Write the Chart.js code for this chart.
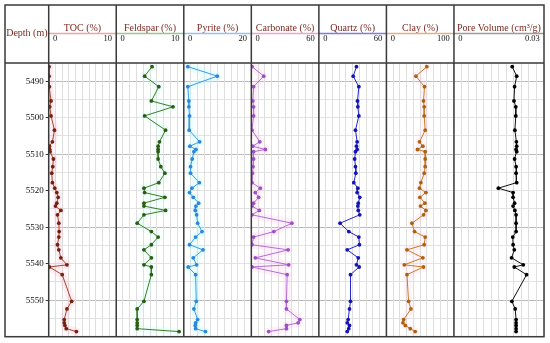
<!DOCTYPE html>
<html>
<head>
<meta charset="utf-8">
<script src="https://cdn.jsdelivr.net/npm/chart.js@4.4.1/dist/chart.umd.min.js"></script>
<style>
    body { margin: 0; background: #fff; }
    #caja { width: 550px; height: 343px; }
</style>
</head>
<body>
<div id="caja"><canvas id="grafica" width="550" height="343"></canvas></div>
<script>
// sample depths (m), shared by every log
const depths = [5486.0, 5488.6, 5491.5, 5495.4, 5497.0, 5499.5, 5503.4, 5506.6, 5507.8, 5508.7,
    5509.3, 5511.3, 5513.4, 5515.2, 5517.8, 5519.3, 5520.5, 5521.8, 5523.4, 5524.2,
    5525.4, 5526.6, 5528.9, 5531.2, 5532.7, 5534.8, 5536.2, 5538.4, 5540.3, 5540.9,
    5543.0, 5550.3, 5552.4, 5555.3, 5556.2, 5556.9, 5557.8, 5558.6];

const toc = [0.05, 0.05, 0.1, 0.35, 0.15, 0.35, 0.85, 0.55, 0.1, 0.15,
    0.2, 0.7, 0.6, 0.45, 0.55, 0.9, 1.2, 1.4, 1.2, 1.0,
    1.8, 1.3, 1.5, 1.55, 1.5, 1.3, 1.5, 1.8, 2.7, 0.1,
    2.0, 3.4, 2.7, 2.3, 2.3, 2.4, 2.6, 4.1];

const feldspar = [5.3, 4.2, 6.3, 5.2, 8.4, 4.2, 7.3, 6.4, 6.2, 6.2,
    6.2, 6.2, 6.6, 7.2, 6.3, 4.1, 4.2, 7.2, 4.1, 4.1,
    7.3, 4.1, 3.1, 5.2, 6.2, 5.2, 4.1, 5.2, 4.1, 5.2,
    5.2, 4.1, 3.1, 3.1, 3.1, 3.1, 3.1, 9.3];

const pyrite = [1.2, 9.9, 1.2, 1.5, 1.5, 1.7, 1.6, 4.7, 1.8, 3.6,
    3.0, 2.5, 2.0, 2.0, 4.6, 2.4, 1.7, 2.8, 4.4, 3.6,
    3.4, 3.8, 4.1, 5.4, 3.5, 1.7, 5.7, 2.8, 3.8, 1.3,
    3.5, 3.7, 3.0, 4.1, 3.5, 3.4, 3.5, 6.4];

const carbonate = [0.6, 11, 2, 1.3, 2, 2, 0.6, 7.5, 1.2, 12.5,
    2, 2, 1.5, 1.0, 0.6, 8, 3.5, 6.5, 2, 0.6,
    7.1, 0.6, 36, 20, 2, 0.6, 32.7, 3.6, 33.2, 0.6,
    31.8, 31.2, 31.2, 43, 41.6, 31.2, 31.2, 15.4];

const quartz = [33.4, 30.5, 35.5, 34.3, 34.6, 35.5, 32.5, 34, 33.4, 34,
    32.5, 31.8, 32.5, 32.8, 31, 34.6, 34, 36.3, 35, 34.6,
    35, 36.3, 18.8, 26.6, 35.5, 36, 25.2, 35, 33.4, 35.8,
    28.1, 28.1, 27.2, 26, 25.2, 27.2, 26.5, 25.2];

const clay = [59.8, 43.7, 56.4, 54.9, 55.9, 55.9, 57.4, 49, 54, 46,
    57.4, 57.4, 57.4, 56, 51, 49, 58.5, 49.5, 57, 50.5,
    58.5, 55, 37.8, 41.6, 57.4, 55.9, 30.4, 54, 26.5, 54.9,
    30.4, 32.8, 36.3, 25.5, 24.5, 28, 35.3, 42.6];

const poreVolume = [0.0194, 0.0209, 0.0202, 0.0200, 0.0206, 0.0206, 0.0203, 0.0208, 0.0209, 0.0207,
    0.0209, 0.0202, 0.0207, 0.0207, 0.0209, 0.0148, 0.0197, 0.0197, 0.0202, 0.0197,
    0.0203, 0.0207, 0.0207, 0.0207, 0.0196, 0.0197, 0.0201, 0.0192, 0.0231, 0.0201,
    0.0242, 0.0193, 0.0204, 0.0207, 0.0207, 0.0207, 0.0207, 0.0207];

const panelTitles = ['TOC (%)', 'Feldspar (%)', 'Pyrite (%)', 'Carbonate (%)', 'Quartz (%)', 'Clay (%)', 'Pore Volume (cm\u00b3/g)'];
const axisMax = [10, 10, 20, 60, 60, 100, 0.03];
const axisMaxLabels = ['10', '10', '20', '60', '60', '100', '0.03'];
const axisDivisions = [10, 10, 10, 10, 10, 10, 12];
const depthMin = 5485;
const depthMax = 5560;

const series = [toc, feldspar, pyrite, carbonate, quartz, clay, poreVolume];

// styles
const lineColors = ['#a3442a', '#3d7a1f', '#3b98e6', '#b06ed2', '#2323cf', '#c77a26', '#111111'];
const pointColors = ['#74220f', '#2c5d13', '#2e86d8', '#9b52c2', '#1515b0', '#ad6212', '#000000'];
const headerColors = ['#eda3a8', '#98c690', '#93c4ee', '#e7a7cc', '#7c7ce4', '#dfb27f', '#9a9a9a'];
const glowColors = ['rgba(255,175,205,0.22)', 'rgba(190,255,245,0.22)', 'rgba(175,250,255,0.28)',
    'rgba(255,190,230,0.22)', null, 'rgba(255,195,215,0.18)', null];
const serif = 'Liberation Serif';
const titleColor = '#7a2a22';

function puntos(valores) {
    return valores.map((v, i) => ({ x: v, y: depths[i] }));
}

const datasets = [];
const scales = {
    y: {
        type: 'linear',
        position: 'left',
        reverse: true,
        min: depthMin,
        max: depthMax,
        afterFit: function (s) {
            s.width = 43.7;
            s.paddingTop = 0;
            s.paddingBottom = 0;
        },
        ticks: {
            stepSize: 5,
            padding: 2,
            color: '#111',
            font: { family: serif, size: 9 },
            callback: function (v) {
                if (v === depthMin || v === depthMax) return null;
                return v % 10 === 0 ? String(v) : '';
            }
        },
        grid: {
            color: function (c) {
                return c.tick && (c.tick.value - 5490) % 20 === 0 ? '#bcbcbc' : '#e2e2e2';
            },
            tickLength: 3,
            tickColor: function (c) {
                return c.tick && c.tick.value % 10 === 0 ? '#333' : 'rgba(0,0,0,0)';
            }
        },
        border: { display: false }
    }
};

for (let i = 0; i < series.length; i++) {
    const id = 'x' + i;
    datasets.push({
        data: puntos(series[i]),
        xAxisID: id,
        yAxisID: 'y',
        borderColor: lineColors[i],
        backgroundColor: pointColors[i],
        pointBorderColor: pointColors[i],
        borderWidth: 1,
        pointRadius: 1.9,
        pointHoverRadius: 1.9,
        pointBorderWidth: 0,
        fill: false,
        order: 0
    });
    if (glowColors[i]) {
        datasets.push({
            data: puntos(series[i]),
            xAxisID: id,
            yAxisID: 'y',
            borderColor: glowColors[i],
            borderWidth: 8,
            borderJoinStyle: 'round',
            borderCapStyle: 'round',
            pointRadius: 0,
            fill: false,
            clip: 0,
            order: 1
        });
    }
    scales[id] = {
        type: 'linear',
        position: 'top',
        stack: 'logs',
        stackWeight: i === 6 ? 1.333 : 1,
        weight: 10 - i,
        min: 0,
        max: axisMax[i],
        afterFit: function (s) {
            s.height = 58;
            s.paddingLeft = 0;
            s.paddingRight = 0;
        },
        title: {
            display: true,
            text: panelTitles[i],
            color: titleColor,
            font: { family: serif, size: 10 },
            padding: { top: 17.5, bottom: 0 }
        },
        ticks: {
            stepSize: axisMax[i] / axisDivisions[i],
            autoSkip: false,
            maxRotation: 0,
            align: 'inner',
            padding: 19,
            color: '#111',
            font: { family: serif, size: 8.5 },
            callback: function (v, idx, ticks) {
                if (idx === 0) return '  0';
                if (idx === ticks.length - 1) return axisMaxLabels[i] + '  ';
                return '';
            }
        },
        grid: { color: '#dedede', drawTicks: false },
        border: { display: false }
    };
}

const marco = {
    id: 'marco',
    afterDraw(chart) {
        const ctx = chart.ctx;
        const area = chart.chartArea;
        ctx.save();
        for (let i = 0; i < series.length; i++) {
            const s = chart.scales['x' + i];
            ctx.strokeStyle = headerColors[i];
            ctx.lineWidth = 1.5;
            ctx.beginPath();
            ctx.moveTo(s.left, 33.5);
            ctx.lineTo(s.right, 33.5);
            ctx.stroke();
        }
        ctx.strokeStyle = '#3a3a3a';
        ctx.lineWidth = 1.5;
        ctx.strokeRect(5, 5, area.right - 5, area.bottom - 5);
        ctx.beginPath();
        ctx.moveTo(5, area.top);
        ctx.lineTo(area.right, area.top);
        ctx.moveTo(area.left, 5);
        ctx.lineTo(area.left, area.bottom);
        for (let i = 1; i < series.length; i++) {
            const x = chart.scales['x' + i].left;
            ctx.moveTo(x, 5);
            ctx.lineTo(x, area.bottom);
        }
        ctx.stroke();
        ctx.fillStyle = titleColor;
        ctx.font = '10px "' + serif + '"';
        ctx.textAlign = 'center';
        ctx.textBaseline = 'middle';
        ctx.fillText('Depth (m)', (5 + area.left) / 2, 33.5);
        ctx.restore();
    }
};

new Chart(document.getElementById('grafica').getContext('2d'), {
    type: 'line',
    data: { datasets: datasets },
    options: {
        responsive: false,
        animation: false,
        devicePixelRatio: 1,
        layout: { padding: { top: 5, left: 5, right: 6, bottom: 6.3 } },
        plugins: {
            legend: { display: false },
            tooltip: { enabled: false }
        },
        scales: scales
    },
    plugins: [marco]
});
</script>
</body>
</html>
